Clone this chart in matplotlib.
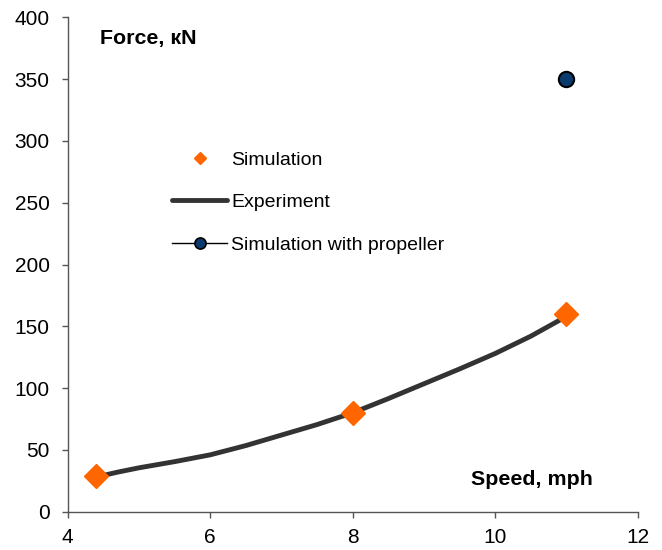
import matplotlib
matplotlib.use("Agg")
import matplotlib.pyplot as plt
from matplotlib.lines import Line2D

plt.rcParams['font.family'] = ['Liberation Sans', 'DejaVu Sans']

# Data
sim_speed = [4.4, 8, 11]
sim_force = [29, 80, 160]
exp_speed = [4.4, 4.7, 5, 5.5, 6, 6.5, 7, 7.5, 8, 8.5, 9, 9.5, 10, 10.5, 11]
exp_force = [28, 32, 35.5, 40.5, 46, 53.5, 62, 70.5, 80, 91.5, 103.5, 115.5, 128, 142, 158]
prop_speed = [11]
prop_force = [350]
xticks = [4, 6, 8, 10, 12]
yticks = [0, 50, 100, 150, 200, 250, 300, 350, 400]

fig = plt.figure(figsize=(6.62, 5.5), dpi=100)
ax = fig.add_axes([67.7/662, 1-511.7/550, (637.7-67.7)/662, (511.7-17.3)/550])

ax.plot(exp_speed, exp_force, color='#333333', lw=3.5, solid_capstyle='round',
        solid_joinstyle='round', zorder=2)
ax.plot(sim_speed, sim_force, ls='none', marker='D', ms=12.2, color='#FF6600', mec='#FF6600', zorder=3)
ax.plot(prop_speed, prop_force, ls='none', marker='o', ms=11, color='#0B3B6E', mec='black', mew=1.5, zorder=3)

ax.set_xlim(4, 12)
ax.set_ylim(0, 400)
ax.set_xticks(xticks)
ax.set_yticks(yticks)
for s in ['top', 'right']:
    ax.spines[s].set_visible(False)
for s in ['left', 'bottom']:
    ax.spines[s].set_color('#555555')
    ax.spines[s].set_linewidth(1.0)
ax.tick_params(direction='out', length=4, width=1, color='#555555', labelsize=15, labelcolor='black')
ax.tick_params(axis='y', pad=9)
ax.tick_params(axis='x', pad=8)

ax.text(100/662, 1-44/550, 'Force, кN', transform=fig.transFigure, fontsize=15.4, fontweight='bold', ha='left', va='baseline')
ax.text(593/662, 1-485/550, 'Speed, mph', transform=fig.transFigure, fontsize=15.4, fontweight='bold', ha='right', va='baseline')

handles = [
    Line2D([], [], ls='none', marker='D', ms=6, color='#FF6600'),
    Line2D([], [], color='#333333', lw=3.5, solid_capstyle='round'),
    Line2D([], [], color='black', lw=1, marker='o', ms=8, mfc='#0B3B6E', mec='black', mew=1.2),
]
labels = ['Simulation', 'Experiment', 'Simulation with propeller']
leg = ax.legend(handles, labels, loc='upper left', bbox_to_anchor=(172/662, 1-151/550),
                bbox_transform=fig.transFigure, frameon=False, fontsize=14,
                handlelength=2.83, handletextpad=0.2, labelspacing=1.28, borderpad=0, borderaxespad=0)

fig.savefig('out.png', dpi=100)
